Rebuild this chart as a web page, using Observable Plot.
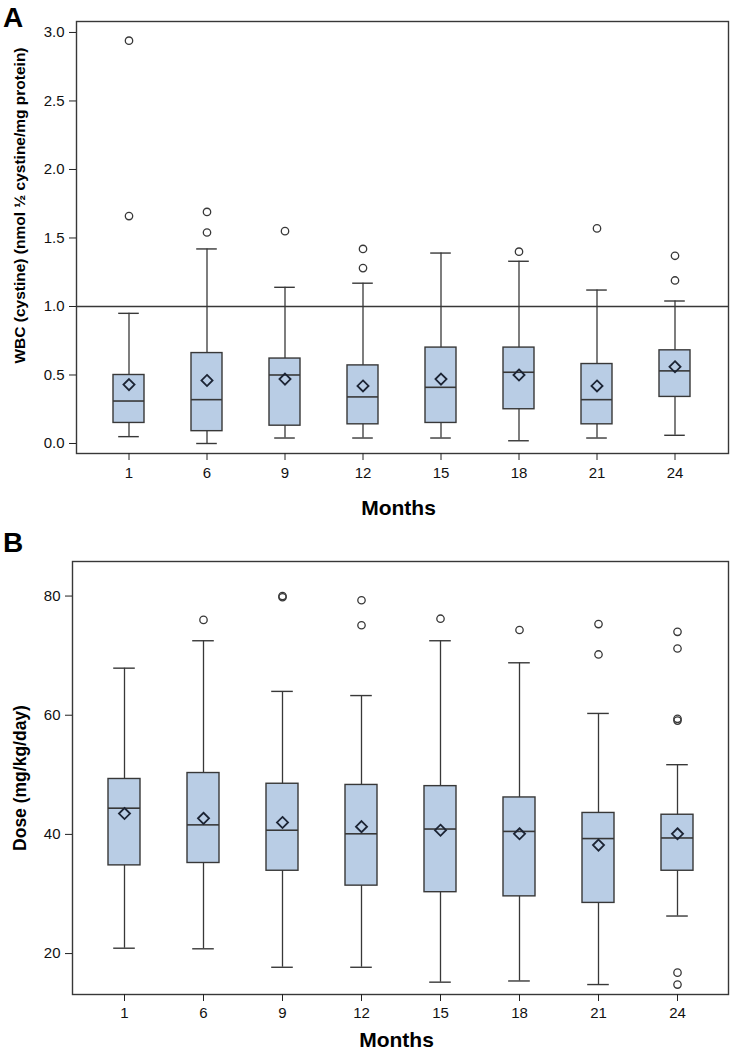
<!DOCTYPE html>
<html><head><meta charset="utf-8">
<script src="https://cdn.jsdelivr.net/npm/d3@7"></script>
<script src="https://cdn.jsdelivr.net/npm/@observablehq/plot@0.6"></script>
<style>
body{margin:0;background:#fff;}
#wrap{position:relative;width:732px;height:1050px;overflow:hidden;font-family:"Liberation Sans",Arial,sans-serif;background:#fff;}
.panel{position:absolute;left:0;}
.tag{position:absolute;font-weight:bold;font-size:28px;line-height:1;color:#000;}
</style></head><body>
<div id="wrap">
  <div id="pa" class="panel" style="top:0px"></div>
  <div id="pb" class="panel" style="top:520px"></div>
  <div class="tag" style="left:3px;top:4px">A</div>
  <div class="tag" style="left:3px;top:529px">B</div>
</div>
<script>
// ---- data ----
const months = ["1","6","9","12","15","18","21","24"];

// Panel A: WBC cystine
const wbcMin    = [0.05, 0.00, 0.04, 0.04, 0.04, 0.02, 0.04, 0.06];
const wbcQ1     = [0.15, 0.09, 0.13, 0.14, 0.15, 0.25, 0.14, 0.34];
const wbcMedian = [0.31, 0.32, 0.50, 0.34, 0.41, 0.52, 0.32, 0.53];
const wbcQ3     = [0.50, 0.66, 0.62, 0.57, 0.70, 0.70, 0.58, 0.68];
const wbcMax    = [0.95, 1.42, 1.14, 1.17, 1.39, 1.33, 1.12, 1.04];
const wbcMean   = [0.43, 0.46, 0.47, 0.42, 0.47, 0.50, 0.42, 0.56];
const wbcOutMonth = ["1","1","6","6","9","12","12","18","21","24","24"];
const wbcOutValue = [2.94, 1.66, 1.69, 1.54, 1.55, 1.42, 1.28, 1.40, 1.57, 1.37, 1.19];
const wbcTicks = [0, 0.5, 1.0, 1.5, 2.0, 2.5, 3.0];

// Panel B: Dose
const doseMin    = [20.9, 20.8, 17.7, 17.7, 15.2, 15.4, 14.8, 26.3];
const doseQ1     = [34.8, 35.2, 33.9, 31.4, 30.3, 29.6, 28.5, 33.9];
const doseMedian = [44.4, 41.6, 40.7, 40.1, 40.9, 40.5, 39.3, 39.4];
const doseQ3     = [49.3, 50.3, 48.5, 48.3, 48.1, 46.2, 43.6, 43.3];
const doseMax    = [67.9, 72.5, 64.0, 63.3, 72.5, 68.8, 60.3, 51.7];
const doseMean   = [43.5, 42.7, 42.0, 41.3, 40.7, 40.1, 38.2, 40.1];
const doseOutMonth = ["6","9","9","12","12","15","18","21","21","24","24","24","24","24","24"];
const doseOutValue = [76.0, 79.8, 80.0, 79.3, 75.1, 76.2, 74.3, 75.3, 70.2, 74.0, 71.2, 59.1, 59.4, 16.8, 14.8];
const doseTicks = [20, 40, 60, 80];

const INK = "#383838";
const FILL = "#b9cde5";

function panel(o) {
  const rows = months.map((m, i) => ({month: m, min: o.min[i], q1: o.q1[i], median: o.median[i], q3: o.q3[i], max: o.max[i], mean: o.mean[i]}));
  const outs = o.outMonth.map((m, i) => ({month: m, value: o.outValue[i]}));
  const marks = [
    Plot.frame({stroke: INK, strokeWidth: 1.4}),
    Plot.axisX({tickSize: 7, tickPadding: o.xTickPadding, fontSize: 15, label: null, stroke: "#222", fill: "#111"}),
    Plot.axisY({ticks: o.ticks, tickFormat: o.tickFormat, tickSize: 7, tickPadding: 5, fontSize: 15, label: null, stroke: "#222", fill: "#111"}),
    o.ref != null ? Plot.ruleY([o.ref], {stroke: INK, strokeWidth: 1.3}) : null,
    Plot.ruleX(rows, {x: "month", y1: "min", y2: "max", stroke: INK, strokeWidth: 1.3}),
    Plot.tickY(rows, {x: "month", y: "min", inset: 5.2, stroke: INK, strokeWidth: 1.4}),
    Plot.tickY(rows, {x: "month", y: "max", inset: 5.2, stroke: INK, strokeWidth: 1.4}),
    Plot.barY(rows, {x: "month", y1: "q1", y2: "q3", fill: FILL, stroke: INK, strokeWidth: 1.4}),
    Plot.tickY(rows, {x: "month", y: "median", stroke: INK, strokeWidth: 1.6}),
    Plot.dot(rows, {x: "month", y: "mean", symbol: "diamond2", r: 5, stroke: "#1c2434", strokeWidth: 1.8, fill: "none"}),
    Plot.dot(outs, {x: "month", y: "value", r: 3.7, stroke: INK, strokeWidth: 1.3, fill: "none"}),
    Plot.text([o.yLabel], {frameAnchor: "left", rotate: -90, dx: o.yLabelDx, dy: o.yLabelDy, fontSize: o.yLabelSize, fontWeight: "bold", fill: "#000", lineAnchor: "middle", textAnchor: "middle"}),
    Plot.text(["Months"], {frameAnchor: "bottom", dx: -4, dy: o.monthsDy, fontSize: 21, fontWeight: "bold", fill: "#000", lineAnchor: "bottom", textAnchor: "middle"})
  ].filter(Boolean);
  return Plot.plot({
    width: 732,
    height: o.height,
    marginTop: o.marginTop,
    marginBottom: o.marginBottom,
    marginLeft: o.marginLeft,
    marginRight: 4,
    style: {fontFamily: '"Liberation Sans", Arial, sans-serif', fontSize: "15px", color: "#111", background: "#fff", overflow: "visible"},
    x: {type: "band", domain: months, paddingInner: 0.6, paddingOuter: 0.447},
    y: {domain: o.yDomain},
    marks
  });
}

document.getElementById("pa").appendChild(panel({
  min: wbcMin, q1: wbcQ1, median: wbcMedian, q3: wbcQ3, max: wbcMax, mean: wbcMean,
  outMonth: wbcOutMonth, outValue: wbcOutValue, ref: 1,
  yDomain: [-0.073, 3.08], ticks: wbcTicks, tickFormat: ".1f",
  yLabel: "WBC (cystine) (nmol ½ cystine/mg protein)", yLabelSize: 15.5, yLabelDx: -56.5, yLabelDy: -32,
  height: 520, marginTop: 21, marginBottom: 67, marginLeft: 76, xTickPadding: 7, monthsDy: 61
}));

document.getElementById("pb").appendChild(panel({
  min: doseMin, q1: doseQ1, median: doseMedian, q3: doseQ3, max: doseMax, mean: doseMean,
  outMonth: doseOutMonth, outValue: doseOutValue, ref: null,
  yDomain: [13.13, 85.8], ticks: doseTicks, tickFormat: "d",
  yLabel: "Dose (mg/kg/day)", yLabelSize: 17.5, yLabelDx: -52.5, yLabelDy: 0,
  height: 530, marginTop: 41, marginBottom: 56, marginLeft: 72, xTickPadding: 6, monthsDy: 52
}));
</script>
</body></html>
